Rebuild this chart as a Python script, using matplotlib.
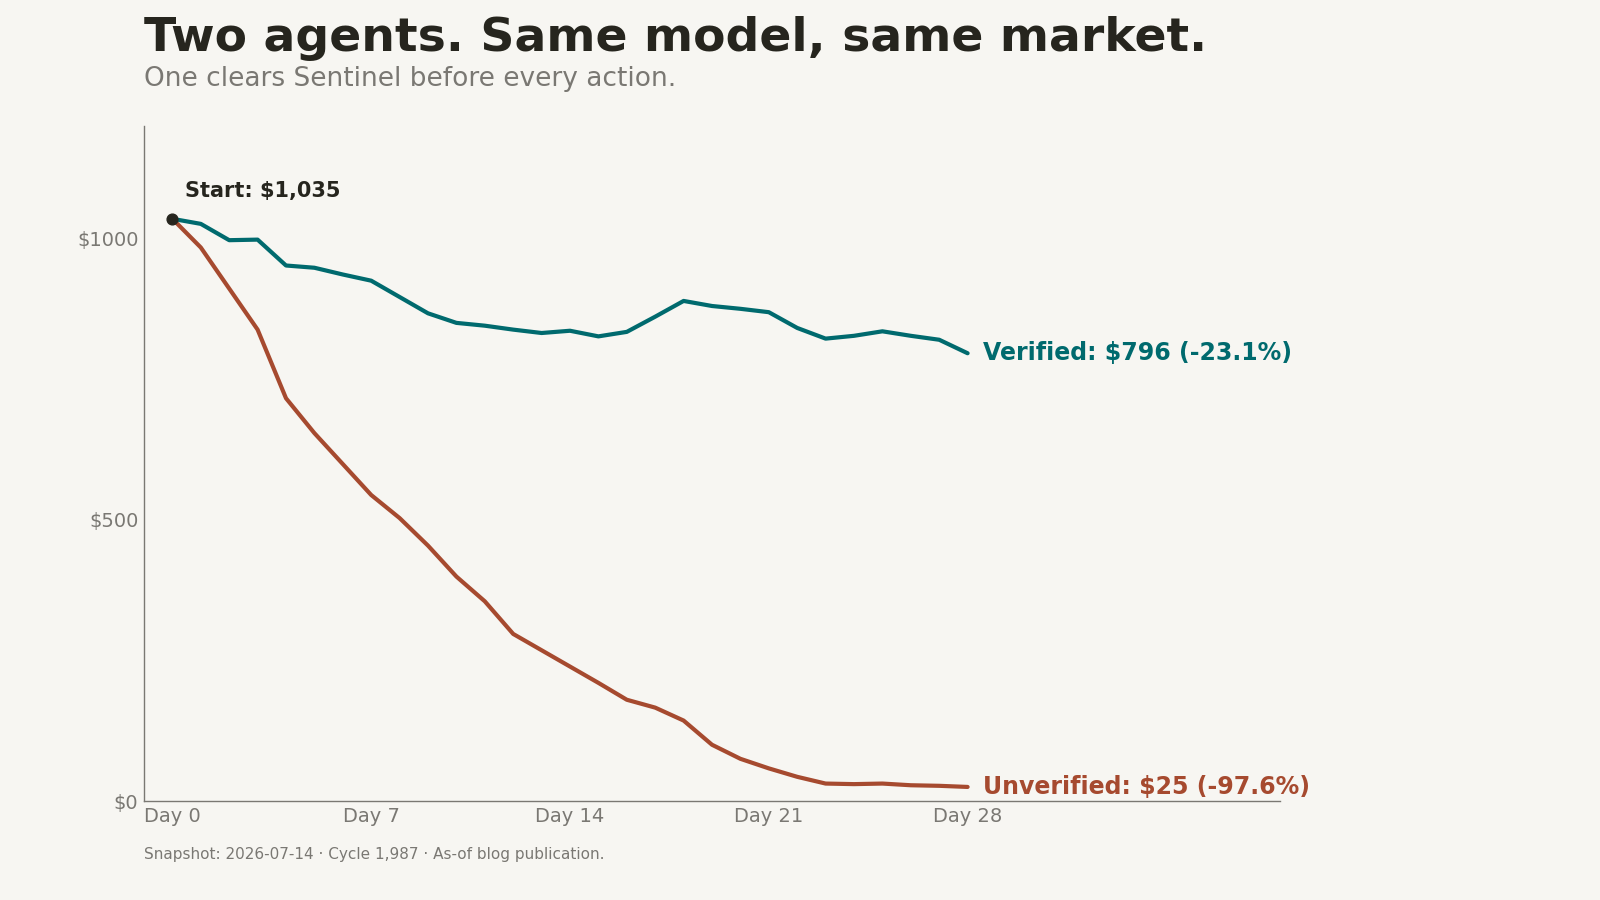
import numpy as np
import matplotlib as mpl
mpl.use('Agg')

import matplotlib.pyplot as plt

days = list(range(29))
verified = [1035, 1026, 997, 998, 952, 948, 936, 925, 896, 867, 850, 845, 838, 832, 836, 826, 834,
            861, 889, 880, 875, 869, 841, 822, 827, 835, 827, 820, 796]
unverified = [1035, 984, 911, 838, 716, 654, 599, 544, 503, 454, 399, 355, 297, 268, 239, 210, 180,
              166, 143, 100, 75, 58, 43, 31, 30, 31, 28, 27, 25]
day_ticks = [0, 7, 14, 21, 28]
y_ticks = [0, 500, 1000]

bg = '#f7f6f2'
teal = '#006a6e'
rust = '#a64a2f'
ink = '#26251e'
grey = '#7a7873'

plt.rcParams['font.family'] = 'DejaVu Sans'

fig = plt.figure(figsize=(16, 9), dpi=100, facecolor=bg)
ax = fig.add_axes([0.09, 0.11, 0.71, 0.75], facecolor=bg)

ax.plot(days, verified, color=teal, lw=3, solid_capstyle='round', zorder=3)
ax.plot(days, unverified, color=rust, lw=3, solid_capstyle='round', zorder=3)
ax.scatter([days[0]], [verified[0]], s=60, color=ink, zorder=4)

ax.text(0.45, 1085, 'Start: $1,035', fontsize=15, fontweight='bold', color=ink, va='center')
ax.text(28.55, verified[-1], 'Verified: $796 (-23.1%)', fontsize=17, fontweight='bold',
        color=teal, va='center')
ax.text(28.55, unverified[-1], 'Unverified: $25 (-97.6%)', fontsize=17, fontweight='bold',
        color=rust, va='center')

ax.set_xlim(-1, 39)
ax.set_ylim(0, 1200)
ax.set_xticks(day_ticks)
ax.set_xticklabels(['Day %d' % d for d in day_ticks])
ax.set_yticks(y_ticks)
ax.set_yticklabels(['$%d' % v for v in y_ticks])
ax.tick_params(length=0, labelsize=14, colors=grey, pad=4)
for s in ['top', 'right']:
    ax.spines[s].set_visible(False)
for s in ['left', 'bottom']:
    ax.spines[s].set_color(grey)
    ax.spines[s].set_linewidth(1)

fig.text(0.09, 1 - 51 / 900, 'Two agents. Same model, same market.', fontsize=34,
         fontweight='bold', color=ink, va='baseline')
fig.text(0.09, 1 - 86 / 900, 'One clears Sentinel before every action.', fontsize=19,
         color=grey, va='baseline')
fig.text(0.09, 1 - 859 / 900, 'Snapshot: 2026-07-14 · Cycle 1,987 · As-of blog publication.',
         fontsize=11, color=grey, va='baseline')

plt.savefig('out.png', facecolor=bg)
